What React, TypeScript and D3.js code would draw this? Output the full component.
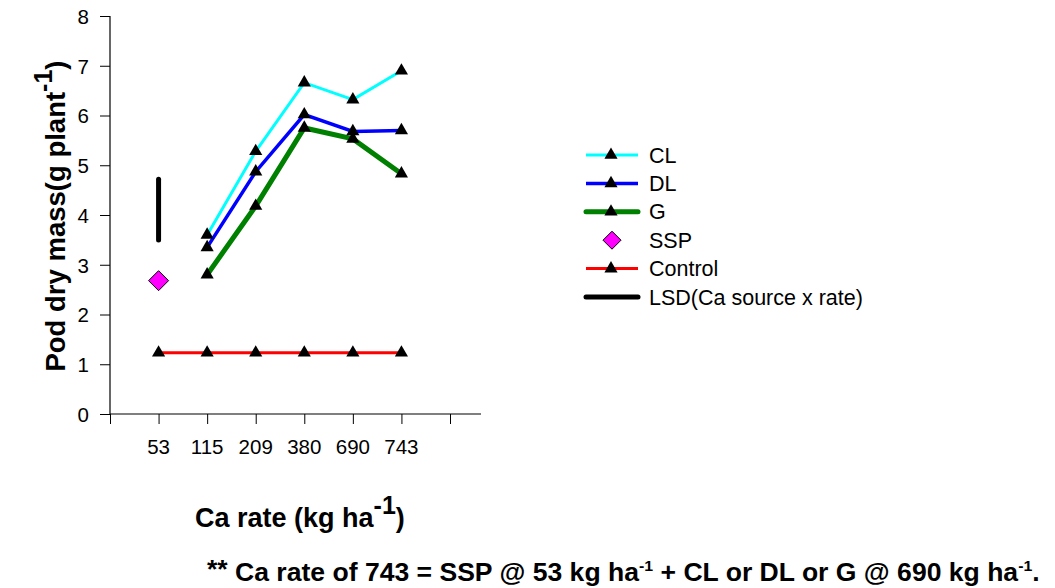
import React, { useEffect, useRef } from "react";
import * as d3 from "d3";

const rates = ["53", "115", "209", "380", "690", "743"];
const clValues = [3.6, 5.28, 6.66, 6.32, 6.9];
const dlValues = [3.35, 4.87, 6.02, 5.68, 5.7];
const gValues = [2.8, 4.18, 5.75, 5.53, 4.83];
const controlValues = [1.23, 1.23, 1.23, 1.23, 1.23, 1.23];
const sspValue = 2.68;
const lsdRange = [3.5, 4.72];
const yTicks = [0, 1, 2, 3, 4, 5, 6, 7, 8];

const series = [
  { name: "CL", color: "#00ffff", width: 3, values: clValues, start: 1 },
  { name: "DL", color: "#0000ff", width: 3.5, values: dlValues, start: 1 },
  { name: "G", color: "#008000", width: 5, values: gValues, start: 1 },
  { name: "Control", color: "#ff0000", width: 3, values: controlValues, start: 0 },
];

const App: React.FC = () => {
  const svgRef = useRef<SVGSVGElement | null>(null);

  useEffect(() => {
    if (!svgRef.current) return;
    const svg = d3.select(svgRef.current);
    svg.selectAll("*").remove();

    const font = "Arial, 'Liberation Sans', sans-serif";
    const x = d3.scaleLinear().domain([0, 7]).range([110, 450]);
    const y = d3.scaleLinear().domain([0, 8]).range([414, 16]);
    const tri = d3.symbol().type(d3.symbolTriangle).size(75);

    // axes
    const yAxis = svg.append("g").attr("transform", "translate(110,0)")
      .call(d3.axisLeft(y).tickValues(yTicks).tickSize(10).tickFormat(d3.format("d")));
    yAxis.select(".domain").attr("d", `M0,${y(8)}V${y(0)}`);
    yAxis.selectAll("text").attr("font-size", 20.5).attr("font-family", font)
      .attr("x", -21).attr("dy", "0.36em");

    const xAxis = svg.append("g").attr("transform", `translate(0,${y(0)})`)
      .call(d3.axisBottom(x).tickValues(d3.range(0, 8)).tickSize(10).tickFormat(() => ""));
    xAxis.select(".domain").attr("d", `M110,0H481`);
    svg.selectAll(".domain").attr("stroke", "#000").attr("stroke-width", 1.2);

    svg.append("g").selectAll("text").data(rates).enter().append("text")
      .attr("x", (_, i) => x(i + 1)).attr("y", 454)
      .attr("text-anchor", "middle")
      .attr("font-family", font).attr("font-size", 20.5)
      .text(d => d);

    // LSD bar
    svg.append("line")
      .attr("x1", x(1)).attr("x2", x(1))
      .attr("y1", y(lsdRange[0])).attr("y2", y(lsdRange[1]))
      .attr("stroke", "#000").attr("stroke-width", 5).attr("stroke-linecap", "round");

    // series lines
    series.forEach(s => {
      const pts = s.values.map((v, i) => [x(i + 1 + s.start), y(v)] as [number, number]);
      svg.append("path")
        .attr("d", d3.line()(pts))
        .attr("fill", "none").attr("stroke", s.color).attr("stroke-width", s.width);
    });
    series.forEach(s => {
      s.values.forEach((v, i) => {
        svg.append("path").attr("d", tri)
          .attr("transform", `translate(${x(i + 1 + s.start)},${y(v)})`)
          .attr("fill", "#000");
      });
    });

    // SSP diamond
    svg.append("path")
      .attr("d", "M0,-10L10,0L0,10L-10,0Z")
      .attr("transform", `translate(${x(1)},${y(sspValue)})`)
      .attr("fill", "#ff00ff").attr("stroke", "#000").attr("stroke-width", 1);

    // legend
    const legendItems = [
      { name: "CL", kind: "line", color: "#00ffff", width: 3 },
      { name: "DL", kind: "line", color: "#0000ff", width: 3.5 },
      { name: "G", kind: "line", color: "#008000", width: 5 },
      { name: "SSP", kind: "diamond", color: "#ff00ff", width: 0 },
      { name: "Control", kind: "line", color: "#ff0000", width: 3 },
      { name: "LSD(Ca source x rate)", kind: "lsd", color: "#000", width: 5 },
    ];
    const lg = svg.append("g");
    legendItems.forEach((d, i) => {
      const cy = 155 + i * 28.4;
      if (d.kind === "diamond") {
        lg.append("path").attr("d", "M0,-9L9,0L0,9L-9,0Z")
          .attr("transform", `translate(612,${cy})`)
          .attr("fill", d.color).attr("stroke", "#000").attr("stroke-width", 1);
      } else {
        lg.append("line").attr("x1", 586).attr("x2", 638).attr("y1", cy).attr("y2", cy)
          .attr("stroke", d.color).attr("stroke-width", d.width)
          .attr("stroke-linecap", d.kind === "lsd" || d.name === "G" ? "round" : "butt");
        if (d.kind === "line") {
          lg.append("path").attr("d", tri).attr("transform", `translate(611,${cy})`).attr("fill", "#000");
        }
      }
      lg.append("text").attr("x", 649).attr("y", cy + 7.5)
        .attr("font-family", font).attr("font-size", 21.5).text(d.name);
    });

    // y label
    const yl = svg.append("text")
      .attr("transform", "translate(65,216) rotate(-90)")
      .attr("text-anchor", "middle")
      .attr("font-family", font).attr("font-size", 27.5).attr("font-weight", "bold");
    yl.append("tspan").text("Pod dry mass(g plant");
    yl.append("tspan").attr("dy", -13).attr("font-size", 25).text("-1");
    yl.append("tspan").attr("dy", 13).text(")");

    // x label
    const xl = svg.append("text").attr("x", 195).attr("y", 527)
      .attr("font-family", font).attr("font-size", 27).attr("font-weight", "bold");
    xl.append("tspan").text("Ca rate (kg ha");
    xl.append("tspan").attr("dy", -13).attr("font-size", 25).text("-1");
    xl.append("tspan").attr("dy", 13).text(")");

    // footnote, stretched to the reference width
    const fn = svg.append("text").attr("x", 0).attr("y", 0)
      .attr("font-family", font).attr("font-size", 25).attr("font-weight", "bold");
    fn.append("tspan").attr("dy", -3).text("**");
    fn.append("tspan").attr("dy", 3).text(" Ca rate of 743 = SSP @ 53 kg ha");
    fn.append("tspan").attr("dy", -10).attr("font-size", 15).text("-1");
    fn.append("tspan").attr("dy", 10).text(" + CL or DL or G @ 690 kg ha");
    fn.append("tspan").attr("dy", -10).attr("font-size", 15).text("-1");
    fn.append("tspan").attr("dy", 10).text(".");
    const w = (fn.node() as SVGTextElement).getComputedTextLength() || 833;
    fn.attr("transform", `translate(207,581) scale(${833 / w},1)`);
  }, []);

  return <svg ref={svgRef} width={1055} height={588} style={{ display: "block", position: "absolute", left: 0, top: 0, background: "#fff" }} />;
};

export default App;
